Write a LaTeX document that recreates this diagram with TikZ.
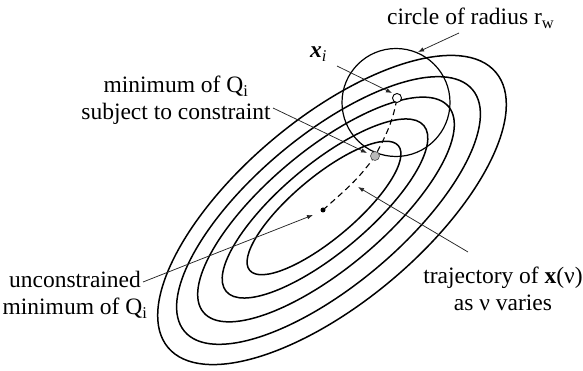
\documentclass[tikz,border=0pt]{standalone}
\usepackage{fontspec}
\setmainfont{Liberation Serif}
\newfontfamily\lserif{Liberation Serif}
\usetikzlibrary{arrows.meta}
\begin{document}
\begin{tikzpicture}[x=1pt,y=1pt,
  level/.style={line width=1.5pt},
  ann/.style={line width=0.75pt, draw=black!85, -{Latex[length=6pt,width=4.5pt]}},
  lbl/.style={font=\lserif\fontsize{23.5}{27}\selectfont, inner sep=0pt, align=center},
  traj/.style={line width=1.1pt, dash pattern=on 6pt off 4pt}]
\useasboundingbox (0,0) rectangle (583,371);
% level sets
\draw[level, rotate around={40:(324,163)}] (324,163) ellipse [x radius=97, y radius=31];
\draw[level, rotate around={40:(325,162.5)}] (325,162.5) ellipse [x radius=129, y radius=44];
\draw[level, rotate around={40:(326,161.5)}] (326,161.5) ellipse [x radius=160, y radius=59];
\draw[level, rotate around={40:(328.5,160.5)}] (328.5,160.5) ellipse [x radius=188, y radius=75];
\draw[level, rotate around={40:(332,161)}] (332,161) ellipse [x radius=214, y radius=92];
% constraint circle
\draw[line width=1.2pt] (396,268.5) circle [radius=54];
% trajectory
\coordinate (tstart) at (323,161);
\coordinate (tmid) at (375,215);
\coordinate (tend) at (397,273);
\draw[traj] (tstart) to[out=42,in=-125] (tmid) to[out=62,in=-100] (tend);
% points
\node[circle, fill=black, inner sep=0pt, minimum size=5pt] (umin) at (tstart) {};
\node[circle, draw=black!70, fill=gray!55, line width=0.6pt, inner sep=0pt, minimum size=9pt] (cmin) at (tmid) {};
\node[circle, draw, fill=white, line width=0.9pt, inner sep=0pt, minimum size=9pt] (xi) at (tend) {};
% labels
\node[lbl, anchor=base west] (rwlbl) at (387,346) {circle of radius r\textsubscript{w}};
\node[lbl, anchor=base west] (xilbl) at (310,313) {\textbf{\textit{x}}\textsubscript{\textit{i}}};
\node[lbl, anchor=north] (l1) at (176,295) {minimum of Q\textsubscript{i}\\subject to constraint};
\node[lbl, anchor=north] (l2) at (75,100) {unconstrained\\minimum of Q\textsubscript{i}};
\node[lbl, anchor=north] (l3) at (503,104) {trajectory of \textbf{x}(ν)\\as ν varies};
% arrows
\coordinate (a1t) at (459,338); \coordinate (a1h) at (418,319);
\coordinate (a2t) at (337,305); \coordinate (a2h) at (392,278);
\coordinate (a3t) at (273,263); \coordinate (a3h) at (367,218);
\coordinate (a4t) at (143,89);  \coordinate (a4h) at (313,156);
\coordinate (a5t) at (468,119); \coordinate (a5h) at (358,184);
\draw[ann] (a1t) -- (a1h);
\draw[ann] (a2t) -- (a2h);
\draw[ann] (a3t) -- (a3h);
\draw[ann] (a4t) -- (a4h);
\draw[ann] (a5t) -- (a5h);
\end{tikzpicture}
\end{document}
